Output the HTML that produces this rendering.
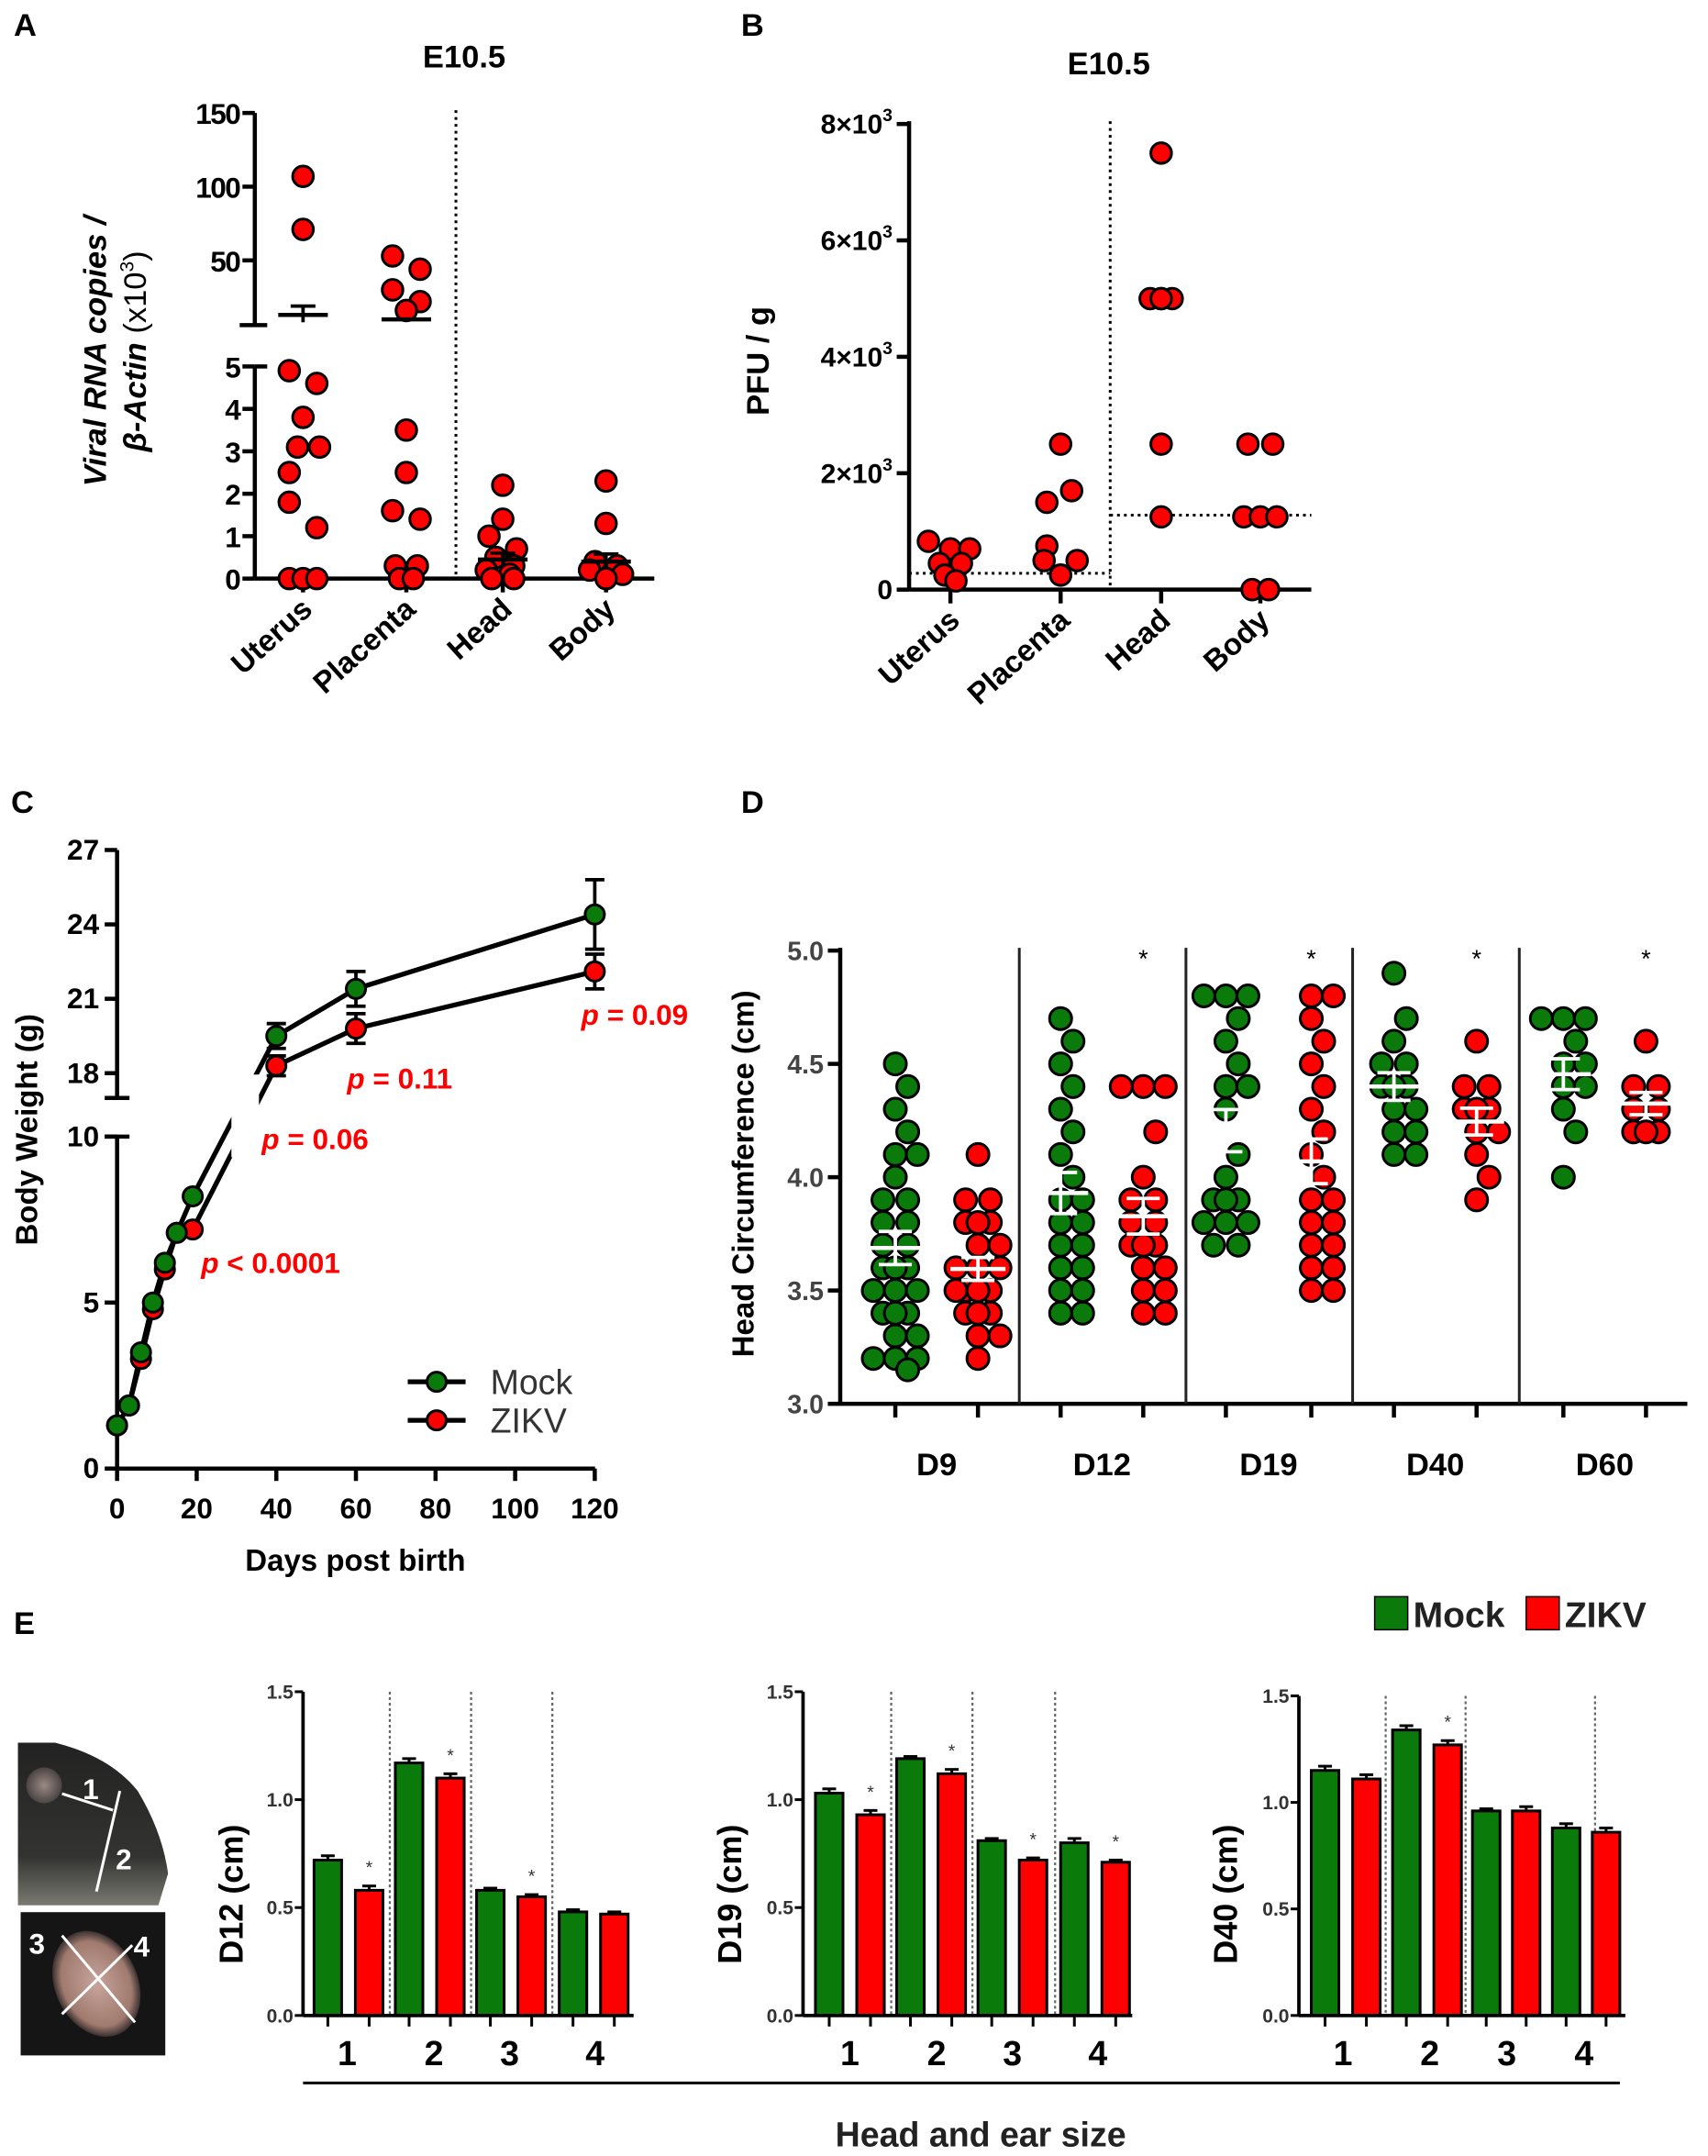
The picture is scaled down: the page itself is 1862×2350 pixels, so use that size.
<!DOCTYPE html>
<html><head><meta charset="utf-8"><style>
html,body{margin:0;padding:0;background:#fff}
svg{display:block;font-family:"Liberation Sans",Arial,sans-serif}
</style></head><body>
<svg id="fig" xmlns="http://www.w3.org/2000/svg" width="1862" height="2350" viewBox="0 0 1240 1565">
<rect x="0" y="0" width="1240" height="1565" fill="#fff"/>
</svg>
<script>
// ===== Panel A data =====
const aCats=['Uterus','Placenta','Head','Body'];
const aVals=[[107,71,4.9,4.6,3.8,3.1,3.1,2.5,1.8,1.2,0,0,0],[53,44,30,22,16,3.5,2.5,1.6,1.4,0.3,0.3,0,0],[2.2,1.4,1.0,0.7,0.5,0.3,0.2,0.1,0,0],[2.3,1.3,0.4,0.3,0.2,0.1,0]];
const aJit=[[0,0,-10,10,0,-4,12,-10,-10,10,-10,0,10],[-10,10,-10,10,0,0,0,-10,10,-8,8,-5,5],[0,0,-10,10,-5,8,-12,5,-8,8],[0,0,-8,8,-12,12,0]];
const aMean=[13,10,0.45,0.4];
const aSem=[6,0,0.15,0.18];
// ===== Panel B data =====
const bCats=['Uterus','Placenta','Head','Body'];
const bVals=[[830,700,700,450,450,250,150],[2500,1700,1500,750,500,500,250],[7500,5000,5000,5000,5000,2500,1250],[2500,2500,1250,1250,1250,0,0]];
const bJit=[[-16,0,14,-8,8,-4,4],[0,8,-10,-10,-12,12,0],[0,-8,0,8,0,0,0],[-9,9,-12,0,12,-6,6]];
const bLod=[280,280,1280,1280];
// ===== Panel C data =====
const cDays=[0,3,6,9,12,15,19,40,60,120];
const cMock=[1.3,1.9,3.5,5.0,6.2,7.1,8.2,19.5,21.4,24.4];
const cZikv=[1.3,1.9,3.3,4.8,6.0,7.1,7.2,18.3,19.8,22.1];
const cMockErr=[0.1,0.1,0.2,0.2,0.2,0.2,0.2,0.5,0.7,1.4];
const cZikvErr=[0.1,0.1,0.2,0.2,0.2,0.2,0.2,0.4,0.6,0.7];
const cPvals=['p < 0.0001','p = 0.06','p = 0.11','p = 0.09'];
// ===== Panel D data =====
const dGroups=['D9','D12','D19','D40','D60'];
const dMock=[[4.5,4.4,4.3,4.2,4.1,4.1,4.0,3.9,3.9,3.8,3.8,3.7,3.7,3.6,3.6,3.6,3.5,3.5,3.5,3.4,3.4,3.4,3.3,3.3,3.2,3.2,3.2,3.15],
 [4.7,4.6,4.5,4.4,4.3,4.2,4.1,4.0,3.9,3.9,3.8,3.8,3.7,3.7,3.6,3.6,3.5,3.5,3.4,3.4],
 [4.8,4.8,4.8,4.7,4.6,4.5,4.4,4.4,4.3,4.1,4.0,3.9,3.9,3.9,3.8,3.8,3.8,3.7,3.7],
 [4.9,4.7,4.6,4.5,4.5,4.4,4.4,4.4,4.3,4.3,4.2,4.2,4.1,4.1],
 [4.7,4.7,4.7,4.6,4.5,4.5,4.4,4.4,4.3,4.2,4.0]];
const dZikv=[[4.1,3.9,3.9,3.8,3.8,3.8,3.7,3.7,3.6,3.6,3.6,3.5,3.5,3.5,3.5,3.4,3.4,3.4,3.3,3.3,3.2],
 [4.4,4.4,4.4,4.2,4.0,3.9,3.9,3.8,3.8,3.7,3.7,3.7,3.6,3.6,3.5,3.5,3.4,3.4],
 [4.8,4.8,4.7,4.6,4.5,4.4,4.3,4.2,4.1,4.0,3.9,3.9,3.8,3.8,3.7,3.7,3.6,3.6,3.5,3.5],
 [4.6,4.4,4.4,4.3,4.3,4.3,4.2,4.2,4.1,4.0,3.9],
 [4.6,4.4,4.4,4.3,4.3,4.2,4.2,4.2]];
const dStar=[false,true,true,true,true];
// ===== Panel E data =====
const eCats=['1','2','3','4'];
const eTitles=['D12 (cm)','D19 (cm)','D40 (cm)'];
const eMock=[[0.72,1.17,0.58,0.48],[1.03,1.19,0.81,0.80],[1.15,1.34,0.96,0.88]];
const eZikv=[[0.58,1.10,0.55,0.47],[0.93,1.12,0.72,0.71],[1.11,1.27,0.96,0.86]];
const eMockErr=[[0.02,0.02,0.01,0.01],[0.02,0.01,0.01,0.02],[0.02,0.02,0.01,0.02]];
const eZikvErr=[[0.02,0.02,0.01,0.01],[0.02,0.02,0.01,0.01],[0.02,0.02,0.02,0.02]];
const eStars=[[true,true,true,false],[true,true,true,true],[false,true,false,false]];
const eTicks=[0,0.5,1.0,1.5];

const NS='http://www.w3.org/2000/svg';
const svg=document.getElementById('fig');
function mk(tag,attrs,parent){const e=document.createElementNS(NS,tag);for(const k in attrs)e.setAttribute(k,attrs[k]);(parent||svg).appendChild(e);return e;}
function txt(s,x,y,size,extra,parent){const t=mk('text',Object.assign({x:x,y:y,'font-size':size,'font-weight':'bold',fill:'#000'},extra||{}),parent);t.textContent=s;return t;}
const GREEN='#0a7a0a',RED='#ff0000';
let e;

['A','B','C','D','E'].forEach((L,i)=>{const p=[[10,26],[538,26],[8,590],[538,590],[10,1186]][i];
 e=txt(L,p[0],p[1],23);
 
 });

// ================= Panel A =================
(function(){
 const g=mk('g',{});
 
 
 const X0=185,X1=475;
 const cx=[220,295,365,440];
 function y(v){return v>=8?189-(v-50)*1.07:420-v*30.8;}
 e=txt('E10.5',337,49,23,{'text-anchor':'middle'},g);
 
 
 mk('line',{x1:X0,y1:82,x2:X0,y2:236,stroke:'#000','stroke-width':3},g);
 mk('line',{x1:X0,y1:266,x2:X0,y2:420,stroke:'#000','stroke-width':3},g);
 mk('line',{x1:174,y1:236,x2:194,y2:236,stroke:'#000','stroke-width':3},g);
 mk('line',{x1:X0,y1:266,x2:194,y2:266,stroke:'#000','stroke-width':3},g);
 const axx=mk('line',{x1:X0,y1:420,x2:X1,y2:420,stroke:'#000','stroke-width':3},g);
 
 
 [150,100,50,0,1,2,3,4,5].forEach(v=>{mk('line',{x1:176,y1:y(v),x2:X0,y2:y(v),stroke:'#000','stroke-width':3},g);
  e=txt(String(v),174,y(v)+8,21,{'text-anchor':'end','letter-spacing':'-1'},g);
  
  });
 mk('line',{x1:331,y1:80,x2:331,y2:420,stroke:'#000','stroke-width':2,'stroke-dasharray':'2,3'},g);
 const yt=mk('text',{transform:'translate(77,255) rotate(-90)','text-anchor':'middle','font-size':23,'font-weight':'bold','font-style':'italic'},g);
 yt.textContent='Viral RNA copies /';
 
 
 const yt2=mk('text',{transform:'translate(106,255) rotate(-90)','text-anchor':'middle','font-size':23,'font-weight':'bold'},g);
 yt2.innerHTML='<tspan font-style="italic">β-Actin</tspan><tspan font-weight="normal"> (x10</tspan><tspan font-weight="normal" font-size="14" dy="-9">3</tspan><tspan font-weight="normal" dy="9">)</tspan>';
 
 
 aCats.forEach((c,i)=>{
  mk('line',{x1:cx[i],y1:420,x2:cx[i],y2:430,stroke:'#000','stroke-width':3},g);
  e=txt(c,cx[i]+8,444,22,{'text-anchor':'end',transform:'rotate(-42 '+(cx[i]+8)+' 444)'},g);
  
  
  aVals[i].forEach((v,j)=>{const d=mk('circle',{cx:cx[i]+aJit[i][j],cy:y(v),r:7.5,fill:RED,stroke:'#000','stroke-width':2},g);
   
   });
  const m=y(aMean[i]);
  const ml=mk('line',{x1:cx[i]-18,y1:m,x2:cx[i]+18,y2:m,stroke:'#000','stroke-width':3},g);
  
  
  if(aSem[i]>0){const t=y(aMean[i]+aSem[i]),b=y(Math.max(aMean[i]-aSem[i],aMean[i]>=8?8:0));
   mk('line',{x1:cx[i],y1:t,x2:cx[i],y2:b,stroke:'#000','stroke-width':2.5},g);
   mk('line',{x1:cx[i]-9,y1:t,x2:cx[i]+9,y2:t,stroke:'#000','stroke-width':2.5},g);}
 });
})();

// ================= Panel B =================
(function(){
 const g=mk('g',{});
 
 
 const X0=660,X1=952;
 const cx=[690,770,843,915];
 function y(v){return 428-v*0.04225;}
 e=txt('E10.5',805,54,23,{'text-anchor':'middle'},g);
 
 
 mk('line',{x1:X0,y1:88,x2:X0,y2:428,stroke:'#000','stroke-width':3},g);
 mk('line',{x1:X0,y1:428,x2:X1,y2:428,stroke:'#000','stroke-width':3},g);
 [0,2000,4000,6000,8000].forEach(v=>{mk('line',{x1:651,y1:y(v),x2:X0,y2:y(v),stroke:'#000','stroke-width':3},g);
  const t=mk('text',{x:648,y:y(v)+7,'text-anchor':'end','font-size':20,'font-weight':'bold'},g);
  t.innerHTML=v===0?'0':(v/1000)+'×10<tspan font-size="13" dy="-9">3</tspan>';
  
  });
 mk('line',{x1:806,y1:88,x2:806,y2:428,stroke:'#000','stroke-width':2,'stroke-dasharray':'2,3'},g);
 mk('line',{x1:X0,y1:y(bLod[0]),x2:806,y2:y(bLod[0]),stroke:'#000','stroke-width':2,'stroke-dasharray':'2,3'},g);
 mk('line',{x1:806,y1:y(bLod[2]),x2:X1,y2:y(bLod[2]),stroke:'#000','stroke-width':2,'stroke-dasharray':'2,3'},g);
 const yt=mk('text',{transform:'translate(558,262) rotate(-90)','text-anchor':'middle','font-size':23,'font-weight':'bold'},g);
 yt.textContent='PFU / g';
 
 
 bCats.forEach((c,i)=>{
  mk('line',{x1:cx[i],y1:428,x2:cx[i],y2:438,stroke:'#000','stroke-width':3},g);
  e=txt(c,cx[i]+8,452,22,{'text-anchor':'end',transform:'rotate(-42 '+(cx[i]+8)+' 452)'},g);
  
  
  bVals[i].forEach((v,j)=>{const d=mk('circle',{cx:cx[i]+bJit[i][j],cy:y(v),r:7.5,fill:RED,stroke:'#000','stroke-width':2},g);
   
   });
 });
})();

// ================= Panel C =================
(function(){
 const g=mk('g',{});
 
 
 const X0=85;
 function x(d){return 85+d*2.89;}
 function y(v){return v>=15?779-(v-18)*18:1066-v*24.1;}
 mk('line',{x1:X0,y1:617,x2:X0,y2:797,stroke:'#000','stroke-width':3},g);
 mk('line',{x1:X0,y1:825,x2:X0,y2:1066,stroke:'#000','stroke-width':3},g);
 mk('line',{x1:76,y1:797,x2:94,y2:797,stroke:'#000','stroke-width':3},g);
 mk('line',{x1:76,y1:825,x2:94,y2:825,stroke:'#000','stroke-width':3},g);
 mk('line',{x1:X0,y1:1066,x2:432,y2:1066,stroke:'#000','stroke-width':3},g);
 [27,24,21,18,10,5,0].forEach(v=>{mk('line',{x1:76,y1:y(v),x2:X0,y2:y(v),stroke:'#000','stroke-width':3},g);
  e=txt(String(v),72,y(v)+7,21,{'text-anchor':'end'},g);
  
  });
 [0,20,40,60,80,100,120].forEach(v=>{mk('line',{x1:x(v),y1:1066,x2:x(v),y2:1075,stroke:'#000','stroke-width':3},g);
  e=txt(String(v),x(v),1102,21,{'text-anchor':'middle'},g);
  
  });
 e=txt('Days post birth',258,1140,22,{'text-anchor':'middle'},g);
 
 
 const yt=mk('text',{transform:'translate(27,820) rotate(-90)','text-anchor':'middle','font-size':22,'font-weight':'bold'},g);
 yt.textContent='Body Weight (g)';
 
 
 function series(vals,errs,col,name){
  const pts=cDays.map((d,i)=>x(d)+','+y(vals[i])).join(' ');
  const pl=mk('polyline',{points:pts,fill:'none',stroke:'#000','stroke-width':3.5},g);
  
  
  return ()=>{cDays.forEach((d,i)=>{
   const t=y(vals[i]+errs[i]),b=y(vals[i]-errs[i]);
   if(errs[i]>0.3){mk('line',{x1:x(d),y1:t,x2:x(d),y2:b,stroke:'#000','stroke-width':2.5},g);
    mk('line',{x1:x(d)-7,y1:t,x2:x(d)+7,y2:t,stroke:'#000','stroke-width':2.5},g);
    mk('line',{x1:x(d)-7,y1:b,x2:x(d)+7,y2:b,stroke:'#000','stroke-width':2.5},g);}
   const c=mk('circle',{cx:x(d),cy:y(vals[i]),r:7,fill:col,stroke:'#000','stroke-width':2},g);
   
   });};
 }
 const dm=series(cMock,cMockErr,GREEN,'mock');
 const dz=series(cZikv,cZikvErr,RED,'zikv');
 mk('rect',{x:168,y:780,width:20,height:60,fill:'#fff'},g);
 dz();dm();
 const pp=[[146,924],[190,834],[252,790],[422,744]];
 cPvals.forEach((p,i)=>{const t=mk('text',{x:pp[i][0],y:pp[i][1],'font-size':21,'font-weight':'bold',fill:RED},g);
  t.innerHTML='<tspan font-style="italic">p</tspan>'+p.slice(1);
  
  });
 [['Mock',GREEN,1003],['ZIKV',RED,1031]].forEach(l=>{
  const lg=mk('g',{},g);
  
  
  mk('line',{x1:296,y1:l[2],x2:338,y2:l[2],stroke:'#000','stroke-width':3.5},lg);
  mk('circle',{cx:317,cy:l[2],r:7,fill:l[1],stroke:'#000','stroke-width':2},lg);
  const t=mk('text',{x:356,y:l[2]+9,'font-size':25,fill:'#333'},lg);t.textContent=l[0];});
})();

// ================= Panel D =================
(function(){
 const g=mk('g',{});
 
 
 const X0=610,X1=1225;
 function y(v){return 1019-(v-3)*164.5;}
 const mx=[650,770,890,1012,1135],zx=[710,830,952,1072,1195];
 mk('line',{x1:X0,y1:688,x2:X0,y2:1019,stroke:'#000','stroke-width':3},g);
 mk('line',{x1:X0,y1:1019,x2:X1,y2:1019,stroke:'#000','stroke-width':3},g);
 [3.0,3.5,4.0,4.5,5.0].forEach(v=>{mk('line',{x1:601,y1:y(v),x2:X0,y2:y(v),stroke:'#000','stroke-width':3},g);
  e=txt(v.toFixed(1),598,y(v)+7,19,{'text-anchor':'end',fill:'#444'},g);
  
  });
 [740,861,982,1103].forEach(sx=>mk('line',{x1:sx,y1:688,x2:sx,y2:1019,stroke:'#222','stroke-width':2},g));
 const yt=mk('text',{transform:'translate(547,852) rotate(-90)','text-anchor':'middle','font-size':22,'font-weight':'bold'},g);
 yt.textContent='Head Circumference (cm)';
 
 
 function col(vals,cx,color,name){
  const placed=[];
  vals.forEach((v,idx)=>{const cy=y(v);
   const alt=(idx%2?[9,-9,0,16,-16]:[0,-9,9,-16,16]);
   let best=cx+alt[0],bestD=-1;
   for(const o of alt){const d=placed.reduce((m,p)=>Math.min(m,Math.hypot(p[0]-(cx+o),p[1]-cy)),99);
    if(d>=12){best=cx+o;bestD=d;break;}
    if(d>bestD){bestD=d;best=cx+o;}}
   placed.push([best,cy]);
   const c=mk('circle',{cx:best,cy:cy,r:8,fill:color,stroke:'#000','stroke-width':2},g);
   
   });
  const m=vals.reduce((a,b)=>a+b,0)/vals.length;
  const sd=Math.sqrt(vals.reduce((a,b)=>a+(b-m)*(b-m),0)/(vals.length-1));const se=sd/Math.sqrt(vals.length);
  const ml=mk('line',{x1:cx-20,y1:y(m),x2:cx+20,y2:y(m),stroke:'#fff','stroke-width':3},g);
  
  
  [m+se,m-se].forEach(v=>mk('line',{x1:cx-12,y1:y(v),x2:cx+12,y2:y(v),stroke:'#fff','stroke-width':2.5},g));
  mk('line',{x1:cx,y1:y(m+se),x2:cx,y2:y(m-se),stroke:'#fff','stroke-width':2.5},g);
 }
 dGroups.forEach((gn,i)=>{
  mk('line',{x1:mx[i],y1:1019,x2:mx[i],y2:1029,stroke:'#000','stroke-width':3},g);
  mk('line',{x1:zx[i],y1:1019,x2:zx[i],y2:1029,stroke:'#000','stroke-width':3},g);
  col(dMock[i],mx[i],GREEN,'mock-'+gn.toLowerCase());
  col(dZikv[i],zx[i],RED,'zikv-'+gn.toLowerCase());
  e=txt(gn,(mx[i]+zx[i])/2,1071,23,{'text-anchor':'middle'},g);
  
  
  if(dStar[i]){e=txt('*',zx[i],702,18,{'text-anchor':'middle','font-weight':'normal'},g);
   
   }
 });
})();

// ================= Panel E =================
(function(){
 const g=mk('g',{});
 
 
 const defs=mk('defs',{},g);
 defs.innerHTML='<radialGradient id="ear1" cx="0.5" cy="0.5" r="0.5"><stop offset="0" stop-color="#9a8a84"/><stop offset="1" stop-color="#4a4444"/></radialGradient><linearGradient id="head" x1="0" y1="0" x2="0" y2="1"><stop offset="0" stop-color="#222"/><stop offset="0.7" stop-color="#333331"/><stop offset="1" stop-color="#7a7a72"/></linearGradient><radialGradient id="ear2" cx="0.5" cy="0.5" r="0.5"><stop offset="0" stop-color="#c8a49c"/><stop offset="0.8" stop-color="#a07a6e"/><stop offset="1" stop-color="#3a3030"/></radialGradient>';
 const p1=mk('g',{},g);
 
 
 mk('path',{d:'M13,1265 L40,1265 Q80,1275 100,1300 Q118,1330 122,1360 L115,1383 L13,1383 Z',fill:'url(#head)'},p1);
 mk('circle',{cx:32,cy:1296,r:13,fill:'url(#ear1)'},p1);
 mk('line',{x1:45,y1:1302,x2:82,y2:1314,stroke:'#fff','stroke-width':2},p1);
 mk('line',{x1:87,y1:1300,x2:70,y2:1373,stroke:'#fff','stroke-width':2},p1);
 txt('1',60,1306,21,{fill:'#fff'},p1);txt('2',84,1357,21,{fill:'#fff'},p1);
 const p2=mk('g',{},g);
 
 
 mk('rect',{x:15,y:1388,width:105,height:104,fill:'#151515'},p2);
 mk('ellipse',{cx:70,cy:1440,rx:30,ry:40,fill:'url(#ear2)',transform:'rotate(-25 70 1440)'},p2);
 mk('line',{x1:45,y1:1405,x2:98,y2:1468,stroke:'#fff','stroke-width':2},p2);
 mk('line',{x1:96,y1:1412,x2:45,y2:1462,stroke:'#fff','stroke-width':2},p2);
 txt('3',21,1418,21,{fill:'#fff'},p2);txt('4',97,1420,21,{fill:'#fff'},p2);

 const charts=[{x0:220,x1:460,top:1228,bars:[238,268,297,327,356,386,416,446],seps:[283,342,401],labs:[252,315,370,432],tx:168},
  {x0:583,x1:822,top:1228,bars:[602,632,661,691,720,750,780,810],seps:[647,706,766],labs:[617,680,735,797],tx:530},
  {x0:943,x1:1180,top:1231,bars:[962,992,1021,1051,1079,1108,1137,1166],seps:[1006,1064,1158],labs:[975,1038,1094,1150],tx:890}];
 charts.forEach((c,k)=>{
  const cg=mk('g',{},g);
  
  
  const Y0=1463;const sc=(Y0-c.top)/1.5;
  function y(v){return Y0-v*sc;}
  c.seps.forEach(sx=>mk('line',{x1:sx,y1:c.top,x2:sx,y2:Y0,stroke:'#666','stroke-width':1.5,'stroke-dasharray':'2,2'},cg));
  eCats.forEach((cat,i)=>{
   [[eMock,eMockErr,GREEN,'mock',c.bars[2*i]],[eZikv,eZikvErr,RED,'zikv',c.bars[2*i+1]]].forEach(s=>{
    const v=s[0][k][i],er=s[1][k][i],bx=s[4];
    mk('line',{x1:bx,y1:y(v+er),x2:bx,y2:y(v),stroke:'#000','stroke-width':2},cg);
    mk('line',{x1:bx-5,y1:y(v+er),x2:bx+5,y2:y(v+er),stroke:'#000','stroke-width':2},cg);
    const r=mk('rect',{x:bx-10,y:y(v),width:20,height:Y0-y(v),fill:s[2],stroke:'#000','stroke-width':2},cg);
    
    
    mk('line',{x1:bx,y1:Y0,x2:bx,y2:Y0+8,stroke:'#000','stroke-width':2},cg);
   });
   if(eStars[k][i]){e=txt('*',c.bars[2*i+1],y(eZikv[k][i]+eZikvErr[k][i])-9,13,{'text-anchor':'middle','font-weight':'normal',fill:'#333'},cg);
    
    }
   e=txt(cat,c.labs[i],1499,25,{'text-anchor':'middle'},cg);
   
   
  });
  mk('line',{x1:c.x0,y1:c.top,x2:c.x0,y2:Y0,stroke:'#000','stroke-width':2.5},cg);
  mk('line',{x1:c.x0,y1:Y0,x2:c.x1,y2:Y0,stroke:'#000','stroke-width':2.5},cg);
  eTicks.forEach(v=>{mk('line',{x1:c.x0-6,y1:y(v),x2:c.x0,y2:y(v),stroke:'#000','stroke-width':2},cg);
   e=txt(v.toFixed(1),c.x0-7,y(v)+5,14,{'text-anchor':'end',fill:'#333'},cg);
   
   });
  const t=mk('text',{transform:'translate('+(c.tx+8)+',1375) rotate(-90)','text-anchor':'middle','font-size':24,'font-weight':'bold'},cg);
  t.textContent=eTitles[k];
  
  
 });
 mk('line',{x1:220,y1:1512,x2:1176,y2:1512,stroke:'#000','stroke-width':2},g);
 e=txt('Head and ear size',712,1558,25,{'text-anchor':'middle',fill:'#222'},g);
 
 
 [['Mock',GREEN,998],['ZIKV',RED,1108]].forEach(l=>{
  const lg=mk('g',{},g);
  
  
  mk('rect',{x:l[2],y:1159,width:24,height:24,fill:l[1],stroke:'#000','stroke-width':1},lg);
  txt(l[0],l[2]+28,1181,26,{fill:'#222'},lg);});
})();
</script>
</body></html>
